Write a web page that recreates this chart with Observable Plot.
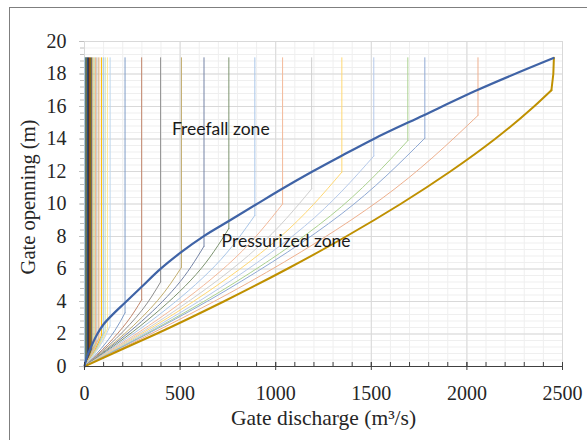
<!DOCTYPE html>
<html><head><meta charset="utf-8">
<script src="https://cdn.jsdelivr.net/npm/d3@7"></script>
<script src="https://cdn.jsdelivr.net/npm/@observablehq/plot@0.6"></script>
<style>
html,body{margin:0;padding:0;background:#fff;}
#wrap{position:relative;width:587px;height:440px;overflow:hidden;background:#fff;}
#border{position:absolute;left:9px;top:7px;width:700px;height:600px;border:1px solid #7f7f7f;box-sizing:border-box;}
#chart{position:absolute;left:0;top:0;}
</style></head><body>
<div id="wrap"><div id="border"></div><div id="chart"></div></div>
<script>
// ---- axes ----
const xTicks = [0, 500, 1000, 1500, 2000, 2500];
const yTicks = [0, 2, 4, 6, 8, 10, 12, 14, 16, 18, 20];
const xLabel = "Gate discharge (m³/s)";
const yLabel = "Gate openning (m)";
const topOpening = 19;

// ---- gate curves near zero discharge (dense cluster) ----
const clusterQ    = [2, 5, 8, 12, 16, 21, 26, 31, 37, 43, 50, 57, 64, 72, 80, 89, 98, 108, 120, 134];
const clusterBend = [0.11, 0.22, 0.32, 0.43, 0.54, 0.66, 0.78, 0.89, 1.02, 1.15, 1.28, 1.42, 1.55, 1.68, 1.8, 1.93, 2.05, 2.18, 2.32, 2.5];
const clusterMidQ = [1, 3, 5, 7, 10, 13, 16, 19, 22, 26, 30, 34, 38, 43, 48, 53, 59, 65, 72, 80];
const clusterMidH = [0.06, 0.11, 0.16, 0.22, 0.27, 0.33, 0.39, 0.45, 0.51, 0.58, 0.64, 0.71, 0.78, 0.84, 0.9, 0.97, 1.03, 1.09, 1.16, 1.25];
const clusterColors = ["#9dc3e6", "#7a8fb0", "#43682b", "#5a5a3a", "#264478", "#3b3b3b", "#9e480e", "#7f6000", "#636363", "#c9a66b",
                       "#a9d18e", "#f4b183", "#bfbfbf", "#d5b88a", "#f8cbad", "#ffc000", "#9dc3e6", "#c5e0b4", "#ffe699", "#bdd7ee"];

// ---- main gate curves ----
const mainQ    = [212, 299, 398, 507, 625, 755, 891, 1036, 1188, 1346, 1513, 1691, 1780, 2058];
const mainBend = [3.3, 4.1, 5.2, 6.1, 7.4, 8.5, 9.3, 10.0, 10.93, 11.96, 12.95, 13.9, 14.05, 15.45];
const mainQ1   = [87, 122, 166, 211, 269, 327, 381, 436, 499, 568, 640, 713, 740, 856];
const mainH1   = [1.1, 1.37, 1.73, 2.03, 2.47, 2.83, 3.1, 3.33, 3.64, 3.99, 4.32, 4.63, 4.68, 5.15];
const mainQ2   = [158, 222, 301, 383, 480, 584, 683, 787, 902, 1023, 1151, 1286, 1342, 1551];
const mainH2   = [2.2, 2.73, 3.47, 4.07, 4.93, 5.67, 6.2, 6.67, 7.29, 7.97, 8.63, 9.27, 9.37, 10.3];
const mainColors = ["#7f9cc7", "#c0846a", "#8e8e8e", "#c2ad6e", "#7483a6", "#7d9470", "#a9c6e8",
                    "#f3b99a", "#cfcfcf", "#ffd873", "#b5c9ea", "#abd290", "#8fa9d4", "#eeb08e"];

// ---- freefall / pressurized boundary (blue) ----
const blueQ = [0, 10, 27, 67, 100, 139, 213, 295, 396, 504, 626, 757, 895, 1032, 1185, 1350, 1510, 1772, 2055, 2453];
const blueH = [0, 0.5, 1, 2, 2.6, 3.1, 3.94, 4.86, 5.99, 7.02, 8.04, 8.97, 9.95, 10.92, 11.95, 13.0, 13.99, 15.45, 17.01, 18.98];

// ---- envelope (gold) ----
const goldQ = [0, 185, 374, 728, 1059, 1368, 1653, 1913, 2147, 2351, 2442];
const goldH = [0, 1, 2, 4, 6, 8, 10, 12, 14, 16, 17];
const goldTopQ = [2442, 2452, 2455];
const goldTopH = [17, 18, 19];

// ---- annotations ----
const notes  = ["Freefall zone", "Pressurized zone"];
const notesQ = [457, 717];
const notesH = [14.57, 7.7];

// ---- build tables ----
const lowerRows = [], upperRows = [];
clusterQ.forEach((q, i) => {
  const id = "c" + i, color = clusterColors[i];
  lowerRows.push({id, color, q: 0, h: 0}, {id, color, q: clusterMidQ[i], h: clusterMidH[i]}, {id, color, q, h: clusterBend[i]});
  upperRows.push({id, color, q, h: clusterBend[i]}, {id, color, q, h: topOpening});
});
mainQ.forEach((q, i) => {
  const id = "m" + i, color = mainColors[i];
  lowerRows.push({id, color, q: 0, h: 0}, {id, color, q: mainQ1[i], h: mainH1[i]},
                 {id, color, q: mainQ2[i], h: mainH2[i]}, {id, color, q, h: mainBend[i]});
  upperRows.push({id, color, q, h: mainBend[i]}, {id, color, q, h: topOpening});
});
const blue = blueQ.map((q, i) => ({q, h: blueH[i]}));
const gold = goldQ.map((q, i) => ({q, h: goldH[i]}));
const goldTop = goldTopQ.map((q, i) => ({q, h: goldTopH[i]}));
const noteRows = notes.map((t, i) => ({t, q: notesQ[i], h: notesH[i]}));

const xMinor = d3.range(0, 2501, 100);
const yMinor = d3.range(0, 51).map(k => +(k * 0.4).toFixed(1));

const serif = "'Liberation Serif', 'Times New Roman', serif";
const plain = d => String(d);

const chart = Plot.plot({
  width: 587,
  height: 440,
  marginLeft: 84,
  marginRight: 25,
  marginTop: 41,
  marginBottom: 74,
  style: {fontFamily: serif, fontSize: "20px", background: "transparent", color: "#262626"},
  x: {domain: [0, 2500], label: null},
  y: {domain: [0, 20], label: null},
  color: {type: "identity"},
  marks: [
    Plot.gridX(xMinor, {stroke: "#efefef", strokeOpacity: 1}),
    Plot.gridY(yMinor, {stroke: "#efefef", strokeOpacity: 1}),
    Plot.gridX(xTicks, {stroke: "#d9d9d9", strokeOpacity: 1}),
    Plot.gridY(yTicks, {stroke: "#d9d9d9", strokeOpacity: 1}),
    Plot.line(lowerRows, {x: "q", y: "h", z: "id", stroke: "color", strokeWidth: 1, curve: "monotone-y"}),
    Plot.line(upperRows, {x: "q", y: "h", z: "id", stroke: "color", strokeWidth: 1}),
    Plot.line(gold, {x: "q", y: "h", stroke: "#bf9000", strokeWidth: 2, curve: "monotone-y"}),
    Plot.line(goldTop, {x: "q", y: "h", stroke: "#bf9000", strokeWidth: 2}),
    Plot.line(blue, {x: "q", y: "h", stroke: "#3f63a6", strokeWidth: 2.2, curve: "monotone-x"}),
    Plot.ruleY([0], {stroke: "#404040", strokeWidth: 1.2}),
    Plot.axisX(xMinor, {tickSize: 4, dy: -4, tickFormat: () => "", stroke: "#404040"}),
    Plot.axisX(xTicks, {tickSize: 8, dy: -4, tickPadding: 15, tickFormat: plain, fontSize: 20, fontFamily: serif, fill: "#262626", stroke: "#404040", label: null}),
    Plot.axisY(yMinor, {tickSize: 4, tickFormat: () => "", stroke: "#c0c0c0"}),
    Plot.axisY(yTicks, {tickSize: 5, tickPadding: 13, tickFormat: plain, fontSize: 20, fontFamily: serif, fill: "#262626", stroke: "#c0c0c0", label: null}),
    Plot.text(noteRows, {x: "q", y: "h", text: "t", textAnchor: "start", fontFamily: "Lato, 'Open Sans', sans-serif", fontSize: 17.5, fill: "#1a1a1a"}),
    Plot.text([xLabel], {frameAnchor: "bottom", lineAnchor: "bottom", textAnchor: "middle", dy: 58, fontSize: 21.5, fontFamily: serif, fill: "#262626"}),
    Plot.text([yLabel], {frameAnchor: "left", lineAnchor: "middle", textAnchor: "middle", dx: -56, dy: -7, rotate: -90, fontSize: 20.5, fontFamily: serif, fill: "#262626"})
  ]
});
document.getElementById("chart").appendChild(chart);
</script></body></html>
